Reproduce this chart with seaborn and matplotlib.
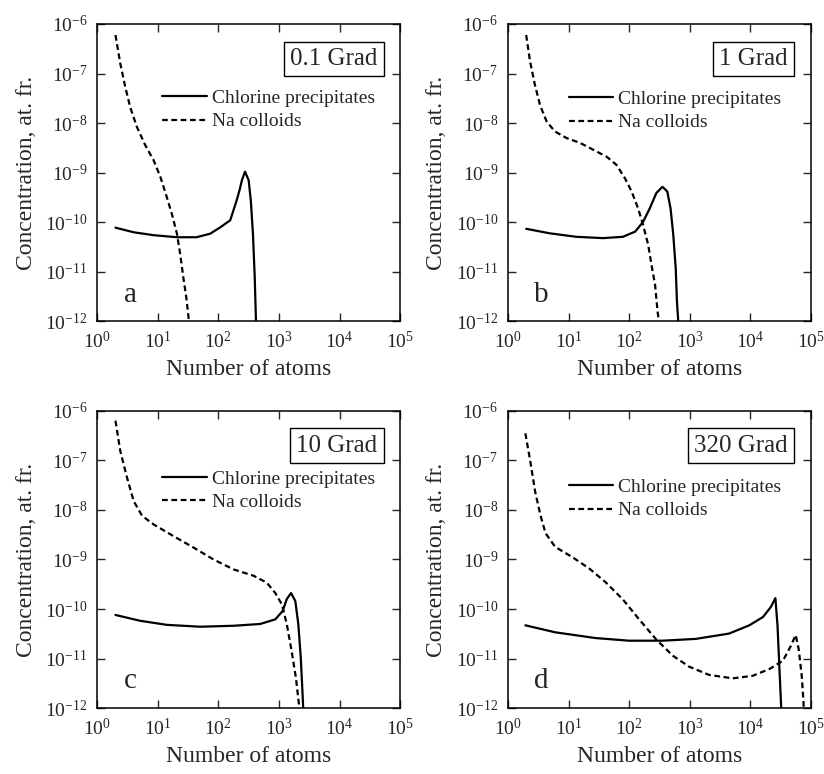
import matplotlib
matplotlib.use("Agg")
import matplotlib.pyplot as plt
from matplotlib.ticker import NullLocator
import seaborn as sns

# panel a, 0.1 Grad
a_cl_n = [2.0, 4.0, 8.5, 20.7, 43.6, 73.3, 107, 157, 200, 224, 245, 275, 316, 343, 372, 398, 417, 425]
a_cl_c = [7.8e-11, 6.3e-11, 5.5e-11, 5.0e-11, 5.0e-11, 5.9e-11, 7.9e-11, 1.1e-10, 2.75e-10, 4.5e-10,
          7.1e-10, 1.05e-9, 7.1e-10, 2.75e-10, 5.9e-11, 7.9e-12, 1.05e-12, 5e-13]
a_na_n = [2.0, 2.4, 2.9, 3.5, 4.5, 6.2, 8.5, 11, 14.1, 17, 20.7, 23.4, 26.3, 29.5, 32.4, 33.5]
a_na_c = [6.0e-7, 1.6e-7, 5.4e-8, 2.1e-8, 8.5e-9, 3.6e-9, 1.8e-9, 8.3e-10, 3.2e-10, 1.5e-10,
          5.9e-11, 2.3e-11, 7.9e-12, 3.1e-12, 1.1e-12, 5e-13]

# panel b, 1 Grad
b_cl_n = [2.0, 4.9, 13.5, 37, 79, 126, 170, 219, 282, 355, 427, 484, 537, 589, 617, 646, 660]
b_cl_c = [7.4e-11, 6.0e-11, 5.1e-11, 4.8e-11, 5.1e-11, 6.5e-11, 1.02e-10, 1.9e-10, 3.9e-10, 5.2e-10,
          4.2e-10, 1.9e-10, 5.5e-11, 1.17e-11, 2.5e-12, 1.07e-12, 5e-13]
b_na_n = [2.0, 2.31, 2.79, 3.39, 4.37, 5.97, 9.3, 15.5, 25.7, 42.7, 61.7, 85.1, 110, 141, 170, 207,
          234, 269, 295, 309, 315]
b_na_c = [6.0e-7, 1.8e-7, 5.9e-8, 2.3e-8, 1.07e-8, 6.8e-9, 5.0e-9, 4.0e-9, 2.9e-9, 2.1e-9, 1.45e-9,
          7.8e-10, 4.2e-10, 1.9e-10, 8.9e-11, 3.5e-11, 1.4e-11, 5.4e-12, 1.6e-12, 1.07e-12, 5e-13]

# panel c, 10 Grad
c_cl_n = [2.0, 5.1, 14.1, 50, 178, 490, 871, 1148, 1349, 1585, 1862, 2089, 2291, 2455, 2512, 2540]
c_cl_c = [7.6e-11, 5.8e-11, 4.8e-11, 4.4e-11, 4.6e-11, 5.0e-11, 6.2e-11, 9.1e-11, 1.6e-10, 2.1e-10,
          1.45e-10, 4.9e-11, 1.05e-11, 1.9e-12, 1.0e-12, 5e-13]
c_na_n = [2.0, 2.4, 3.1, 4.0, 5.5, 8.5, 18.2, 38.9, 83, 178, 380, 631, 871, 1122, 1349, 1622, 1905,
          2138, 2180]
c_na_c = [6.3e-7, 1.55e-7, 4.5e-8, 1.5e-8, 7.6e-9, 5.1e-9, 2.95e-9, 1.74e-9, 1.0e-9, 6.3e-10,
          4.7e-10, 3.4e-10, 2.1e-10, 1.23e-10, 4.9e-11, 1.4e-11, 4.1e-12, 1.2e-12, 5e-13]

# panel d, 320 Grad
d_cl_n = [1.94, 6.0, 27.9, 100, 355, 1259, 4467, 9661, 16218, 21878, 26002, 28184, 30200, 32359, 32800]
d_cl_c = [4.7e-11, 3.4e-11, 2.6e-11, 2.3e-11, 2.3e-11, 2.5e-11, 3.2e-11, 4.7e-11, 6.9e-11, 1.1e-10,
          1.66e-10, 4.7e-11, 7.1e-12, 1.1e-12, 5e-13]
d_na_n = [1.94, 2.34, 2.82, 3.43, 4.17, 6.0, 11.5, 21.9, 40.7, 77.6, 145, 275, 525, 977, 2089, 5129,
          10965, 20893, 34674, 46774, 56234, 63096, 70795, 75858, 77000]
d_na_c = [3.5e-7, 9.5e-8, 2.3e-8, 7.9e-9, 3.4e-9, 1.8e-9, 1.12e-9, 6.6e-10, 3.5e-10, 1.6e-10, 6.3e-11,
          2.5e-11, 1.15e-11, 6.9e-12, 4.7e-12, 4.0e-12, 4.5e-12, 6.2e-12, 9.1e-12, 1.8e-11, 3.0e-11,
          1.55e-11, 4.5e-12, 1.3e-12, 5e-13]

doses = ["0.1 Grad", "1 Grad", "10 Grad", "320 Grad"]
letters = ["a", "b", "c", "d"]
xticks = [1e0, 1e1, 1e2, 1e3, 1e4, 1e5]
yticks = [1e-12, 1e-11, 1e-10, 1e-9, 1e-8, 1e-7, 1e-6]

sns.set_style("ticks")
plt.rcParams["font.family"] = ["Liberation Serif", "DejaVu Serif"]
plt.rcParams["mathtext.fontset"] = "custom"
plt.rcParams["mathtext.rm"] = "Liberation Serif"
plt.rcParams["mathtext.it"] = "Liberation Serif:italic"
plt.rcParams["axes.unicode_minus"] = False

fig, axes = plt.subplots(2, 2, figsize=(8.24, 7.74), dpi=100)
fig.subplots_adjust(left=0.118, right=0.984, top=0.969, bottom=0.085, wspace=0.356, hspace=0.30)

panels = [
    (a_cl_n, a_cl_c, a_na_n, a_na_c),
    (b_cl_n, b_cl_c, b_na_n, b_na_c),
    (c_cl_n, c_cl_c, c_na_n, c_na_c),
    (d_cl_n, d_cl_c, d_na_n, d_na_c),
]
legend_pos = [(0.215, 0.78), (0.20, 0.777), (0.215, 0.80), (0.20, 0.773)]

for ax, (cl_n, cl_c, na_n, na_c), dose, letter, lpos in zip(axes.flat, panels, doses, letters, legend_pos):
    ax.set(xscale="log", yscale="log")
    sns.lineplot(x=cl_n, y=cl_c, ax=ax, color="black", lw=1.6, label="Chlorine precipitates")
    sns.lineplot(x=na_n, y=na_c, ax=ax, color="black", lw=1.6, linestyle=(0, (2.6, 1.6)),
                 label="Na colloids")
    ax.set_xlim(1, 1e5)
    ax.set_ylim(1e-12, 1e-6)
    ax.set_xticks(xticks)
    ax.set_yticks(yticks)
    ax.xaxis.set_minor_locator(NullLocator())
    ax.yaxis.set_minor_locator(NullLocator())
    ax.tick_params(direction="in", top=True, right=True, length=6, width=1, labelsize=14, pad=7)
    for s in ax.spines.values():
        s.set_linewidth(1.1)
        s.set_color("black")
    ax.set_xlabel("Number of atoms", fontsize=17, labelpad=5)
    ax.set_ylabel("Concentration, at. fr.", fontsize=17, labelpad=6)
    ax.legend(loc="upper left", bbox_to_anchor=lpos, frameon=False, fontsize=14,
              handlelength=2.3, handletextpad=0.25, labelspacing=0.3,
              borderpad=0, borderaxespad=0)
    ax.text(0.925, 0.92, dose, transform=ax.transAxes, ha="right", va="top", fontsize=18,
            bbox=dict(boxstyle="square,pad=0.25", fc="white", ec="black", lw=1))
    ax.text(0.11, 0.09, letter, transform=ax.transAxes, ha="center", va="center", fontsize=21)

fig.savefig("out.png", dpi=100)
